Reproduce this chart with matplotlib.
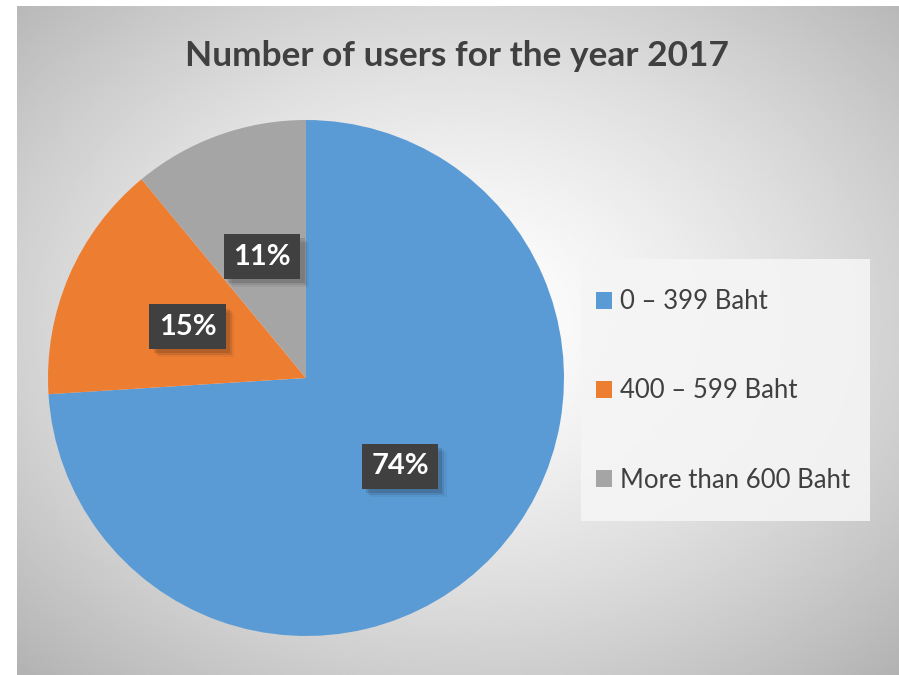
import numpy as np
import matplotlib.pyplot as plt
from matplotlib import patheffects as pe
from matplotlib.patches import Rectangle

# data
categories = ["0 \u2013 399 Baht", "400 \u2013 599 Baht", "More than 600 Baht"]
shares = [74, 15, 11]
colors = ["#5B9BD5", "#ED7D31", "#A5A5A5"]
title = "Number of users for the year 2017"

W, H = 899, 675
plt.rcParams["font.family"] = ["Lato", "DejaVu Sans"]

fig = plt.figure(figsize=(W / 100, H / 100), dpi=100)
fig.patch.set_facecolor("white")

# chart area with radial gradient background
bg = fig.add_axes([17 / W, 0, (W - 17) / W, (H - 6) / H])
bg.set_axis_off()
yy, xx = np.mgrid[0:1:300j, 0:1:400j]
r = np.sqrt(((xx - 0.5) / 0.62) ** 2 + ((yy - 0.47) / 0.62) ** 2)
shade = 1 - 0.24 * np.clip(r, 0, 1.2) ** 1.4
bg.imshow(shade, cmap="gray", vmin=0, vmax=1, extent=[0, 1, 0, 1],
          aspect="auto", origin="upper", interpolation="bilinear")
bg.set_xlim(0, 1)
bg.set_ylim(0, 1)

fig.text(457 / W, 1 - 56 / H, title, ha="center", va="center",
         fontsize=25.4, fontweight="bold", color="#404040")

# pie
cx, cy, rad = 306, H - 378, 258
ax = fig.add_axes([(cx - rad) / W, (cy - rad) / H, 2 * rad / W, 2 * rad / H])
wedges, _, autotexts = ax.pie(
    shares, colors=colors, startangle=90, counterclock=False, radius=1,
    autopct="%d%%", pctdistance=0.5,
    wedgeprops=dict(linewidth=0),
    textprops=dict(color="white", fontsize=21, fontweight="bold"),
)
ax.set_xlim(-1, 1)
ax.set_ylim(-1, 1)
ax.set_axis_off()
for t in autotexts:
    t.set_bbox(dict(boxstyle="square,pad=0.32", facecolor="#404040",
                    edgecolor="none", linewidth=0))
    # soft drop shadow
    t.get_bbox_patch().set_path_effects([
        pe.SimplePatchShadow(offset=(6, -6), alpha=0.06),
        pe.SimplePatchShadow(offset=(4.5, -4.5), alpha=0.10),
        pe.SimplePatchShadow(offset=(3, -3), alpha=0.14),
        pe.Normal()])

# legend box
fig.patches.append(Rectangle((581 / W, 1 - 521 / H), 289 / W, 262 / H,
                             transform=fig.transFigure, facecolor="#F5F5F5",
                             edgecolor="none", alpha=0.9, zorder=1))
leg = fig.legend(
    wedges, categories, loc="center left",
    bbox_to_anchor=(591 / W, 1 - 391 / H),
    fontsize=18.5, frameon=False,
    handlelength=0.62, handleheight=0.62, handletextpad=0.3,
    labelspacing=2.5, borderpad=0.2, borderaxespad=0,
    labelcolor="#404040",
)
leg.set_zorder(2)

fig.savefig("out.png", dpi=100)
